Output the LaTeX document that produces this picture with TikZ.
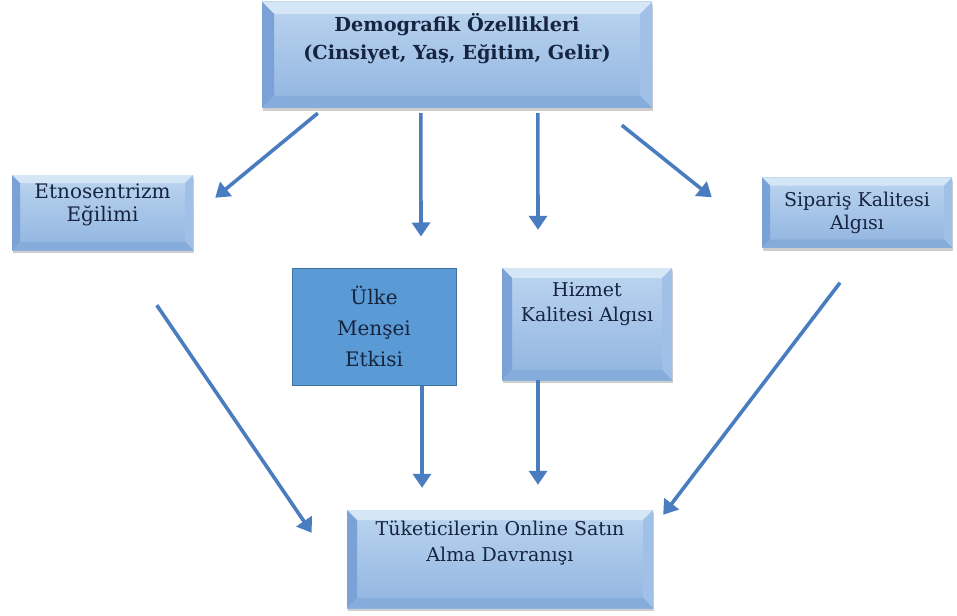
\documentclass[tikz,border=0pt]{standalone}
\usepackage{fontspec}
\setmainfont{DejaVu Serif}
\usetikzlibrary{arrows.meta,shadows}
\definecolor{arrc}{HTML}{4A7DBF}
\definecolor{facetop}{HTML}{BCD5F0}
\definecolor{facebot}{HTML}{90B4E0}
\definecolor{bvtop}{HTML}{D5E6F7}
\definecolor{bvleft}{HTML}{7AA2D7}
\definecolor{bvright}{HTML}{A0C0E8}
\definecolor{bvbot}{HTML}{86ACDC}
\definecolor{flatfill}{HTML}{5B9BD5}
\definecolor{flatdraw}{HTML}{41719C}
\definecolor{txtc}{HTML}{17243F}
\tikzset{
  bevelbox/.style={inner sep=0pt, top color=facetop, bottom color=facebot,
    drop shadow={shadow xshift=1pt, shadow yshift=-3pt, opacity=0.35, fill=black!55},
    path picture={
      \fill[bvtop] (path picture bounding box.north west) -- (path picture bounding box.north east)
        -- ([xshift=-#1,yshift=-#1]path picture bounding box.north east)
        -- ([xshift=#1,yshift=-#1]path picture bounding box.north west) -- cycle;
      \fill[bvleft] (path picture bounding box.north west)
        -- ([xshift=#1,yshift=-#1]path picture bounding box.north west)
        -- ([xshift=#1,yshift=#1]path picture bounding box.south west)
        -- (path picture bounding box.south west) -- cycle;
      \fill[bvright] (path picture bounding box.north east)
        -- ([xshift=-#1,yshift=-#1]path picture bounding box.north east)
        -- ([xshift=-#1,yshift=#1]path picture bounding box.south east)
        -- (path picture bounding box.south east) -- cycle;
      \fill[bvbot] (path picture bounding box.south west) -- (path picture bounding box.south east)
        -- ([xshift=-#1,yshift=#1]path picture bounding box.south east)
        -- ([xshift=#1,yshift=#1]path picture bounding box.south west) -- cycle;
    }},
  bevelbox/.default=9pt,
  flatbox/.style={inner sep=0pt, fill=flatfill, draw=flatdraw, line width=1pt,
    text=txtc, align=center},
  txt/.style={text=txtc, align=center, inner sep=0pt},
  arr/.style={draw=arrc, line width=3.6pt, -{Triangle[width=18pt,length=14pt]}}
}
\begin{document}
\begin{tikzpicture}[x=1pt,y=-1pt]
\useasboundingbox (0,0) rectangle (957,615);

% boxes
\node[bevelbox=12pt, minimum width=390pt, minimum height=106pt] (top) at (457,55) {};
\node[bevelbox=8pt, minimum width=181pt, minimum height=75pt] (etno) at (102.5,212.5) {};
\node[bevelbox=8pt, minimum width=190pt, minimum height=70pt] (sip) at (857,212.5) {};
\node[flatbox, minimum width=164pt, minimum height=117pt,
      font=\fontsize{20}{31}\selectfont] (ulke) at (374,326.5) {Ülke\\Menşei\\Etkisi};
\node[bevelbox=10pt, minimum width=170pt, minimum height=112pt] (hiz) at (587,324) {};
\node[bevelbox=10pt, minimum width=306pt, minimum height=98pt] (bot) at (500,559) {};

% texts
\node[txt, font=\fontsize{19.3}{28}\selectfont\bfseries] (topT) at (457,39)
  {Demografik Özellikleri\\(Cinsiyet, Yaş, Eğitim, Gelir)};
\node[txt, font=\fontsize{20}{23}\selectfont] (etnoT) at (102.5,205) {Etnosentrizm\\Eğilimi};
\node[txt, font=\fontsize{19}{23}\selectfont] (sipT) at (857,213) {Sipariş Kalitesi\\Algısı};
\node[txt, font=\fontsize{19}{25}\selectfont] (hizT) at (587,304) {Hizmet\\Kalitesi Algısı};
\node[txt, font=\fontsize{19}{26}\selectfont] (botT) at (500,543) {Tüketicilerin Online Satın\\Alma Davranışı};

% arrows
\draw[arr] ([xshift=56pt,yshift=-5pt]top.south west) -- ([xshift=22pt,yshift=-23pt]etno.north east);
\draw[arr] ([xshift=159pt,yshift=-5pt]top.south west) -- ([xshift=47pt,yshift=31pt]ulke.north);
\draw[arr] ([xshift=276pt,yshift=-5pt]top.south west) -- ([xshift=-49pt,yshift=38pt]hiz.north);
\draw[arr] ([xshift=360pt,yshift=-17pt]top.south west) -- ([xshift=-50pt,yshift=-20pt]sip.north west);
\draw[arr] ([xshift=145pt,yshift=-55pt]etno.south west) -- ([xshift=-35pt,yshift=-23pt]bot.north west);
\draw[arr] ([xshift=48pt]ulke.south) -- ([xshift=-78pt,yshift=22pt]bot.north);
\draw[arr] ([xshift=-49pt]hiz.south) -- ([xshift=38pt,yshift=25pt]bot.north);
\draw[arr] ([xshift=-17pt,yshift=-35pt]sip.south) -- ([xshift=10pt,yshift=-5pt]bot.north east);
\end{tikzpicture}
\end{document}
